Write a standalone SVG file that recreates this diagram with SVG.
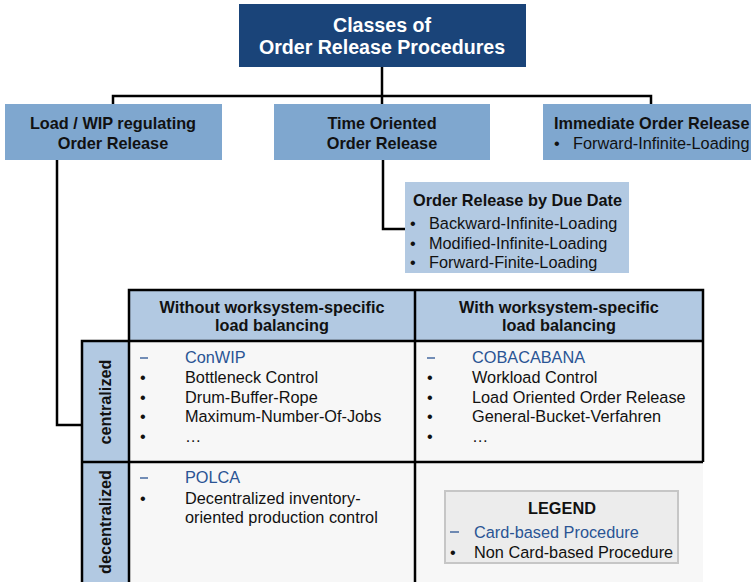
<svg xmlns="http://www.w3.org/2000/svg" width="751" height="582" viewBox="0 0 751 582">
  <style>
    text { font-family: "Liberation Sans", Arial, sans-serif; font-size: 16.3px; fill: #111; }
    .b { font-weight: bold; }
    .c { text-anchor: middle; }
    .title { fill: #ffffff; font-size: 19.6px; font-weight: bold; text-anchor: middle; }
    .card { fill: #2a5494; }
    .dash { stroke: #2a5494; stroke-width: 1.3; }
    .conn { fill: none; stroke: #000; stroke-width: 2.5; }
    .grid { fill: none; stroke: #000; stroke-width: 2.5; }
    .dark { fill: #1a4479; }
    .mid { fill: #7fa7cf; }
    .light { fill: #b2c9e2; }
    .cell { fill: #f7f7f7; }
  </style>

  <!-- connectors -->
  <g id="connectors">
    <polyline class="conn" points="382,66 382,96"/>
    <polyline class="conn" points="113,104 113,96 651,96 651,104"/>
    <polyline class="conn" points="382,96 382,104"/>
    <polyline class="conn" points="57,160 57,425 82,425"/>
    <polyline class="conn" points="383,160 383,229 405,229"/>
  </g>

  <!-- root -->
  <g id="root">
    <rect class="dark" x="239" y="4" width="287" height="63"/>
    <text class="title" x="382" y="32">Classes of</text>
    <text class="title" x="382" y="54">Order Release Procedures</text>
  </g>

  <g id="load-wip">
    <rect class="mid" x="5" y="104" width="217" height="56"/>
    <text class="b c" x="113" y="129">Load / WIP regulating</text>
    <text class="b c" x="113" y="149">Order Release</text>
  </g>

  <g id="time-oriented">
    <rect class="mid" x="274" y="104" width="216" height="56"/>
    <text class="b c" x="382" y="129">Time Oriented</text>
    <text class="b c" x="382" y="149">Order Release</text>
  </g>

  <g id="immediate">
    <rect class="mid" x="543" y="104" width="208" height="56"/>
    <text class="b" x="554" y="129">Immediate Order Release</text>
    <text x="554" y="149">•</text>
    <text x="573" y="149">Forward-Infinite-Loading</text>
  </g>

  <g id="due-date">
    <rect class="light" x="405" y="182" width="224" height="91"/>
    <text class="b" x="413" y="206">Order Release by Due Date</text>
    <text x="410" y="229">•</text>
    <text x="429" y="229">Backward-Infinite-Loading</text>
    <text x="410" y="248.5">•</text>
    <text x="429" y="248.5">Modified-Infinite-Loading</text>
    <text x="410" y="268">•</text>
    <text x="429" y="268">Forward-Finite-Loading</text>
  </g>

  <!-- matrix -->
  <g id="matrix">
    <rect class="light" x="129" y="290" width="574" height="51"/>
    <rect class="light" x="82" y="341" width="47" height="241"/>
    <rect class="cell" x="129" y="341" width="574" height="241"/>
    <text class="b c" x="272" y="313">Without worksystem-specific</text>
    <text class="b c" x="272" y="331">load balancing</text>
    <text class="b c" x="559" y="313">With worksystem-specific</text>
    <text class="b c" x="559" y="331">load balancing</text>
    <text class="b c" transform="translate(111,402) rotate(-90)">centralized</text>
    <text class="b c" transform="translate(111,522) rotate(-90)">decentralized</text>
    <path class="grid" d="M129,341 V290 H703 V462 M415,290 V582 M82,582 V341 H703 M82,462 H703 M129,341 V582"/>
  </g>

  <g id="centralized-without">
    <line class="dash" x1="140" y1="358" x2="148" y2="358"/>
    <text class="card" x="185" y="363">ConWIP</text>
    <text x="140" y="383">•</text>
    <text x="185" y="383">Bottleneck Control</text>
    <text x="140" y="402.5">•</text>
    <text x="185" y="402.5">Drum-Buffer-Rope</text>
    <text x="140" y="422">•</text>
    <text x="185" y="422">Maximum-Number-Of-Jobs</text>
    <text x="140" y="442">•</text>
    <text x="185" y="442">…</text>
  </g>

  <g id="centralized-with">
    <line class="dash" x1="427" y1="358" x2="435" y2="358"/>
    <text class="card" x="472" y="363">COBACABANA</text>
    <text x="427" y="383">•</text>
    <text x="472" y="383">Workload Control</text>
    <text x="427" y="402.5">•</text>
    <text x="472" y="402.5">Load Oriented Order Release</text>
    <text x="427" y="422">•</text>
    <text x="472" y="422">General-Bucket-Verfahren</text>
    <text x="427" y="442">•</text>
    <text x="472" y="442">…</text>
  </g>

  <g id="decentralized-without">
    <line class="dash" x1="140" y1="478" x2="148" y2="478"/>
    <text class="card" x="185" y="483">POLCA</text>
    <text x="140" y="503.5">•</text>
    <text x="185" y="503.5">Decentralized inventory-</text>
    <text x="185" y="523">oriented production control</text>
  </g>

  <g id="legend">
    <rect x="445" y="491" width="233" height="72" fill="#ececec" stroke="#c6c6c6" stroke-width="2"/>
    <text class="b c" x="562" y="514">LEGEND</text>
    <line class="dash" x1="450" y1="532" x2="459" y2="532"/>
    <text class="card" x="474" y="537.5">Card-based Procedure</text>
    <text x="450" y="557.5">•</text>
    <text x="474" y="557.5">Non Card-based Procedure</text>
  </g>
</svg>
